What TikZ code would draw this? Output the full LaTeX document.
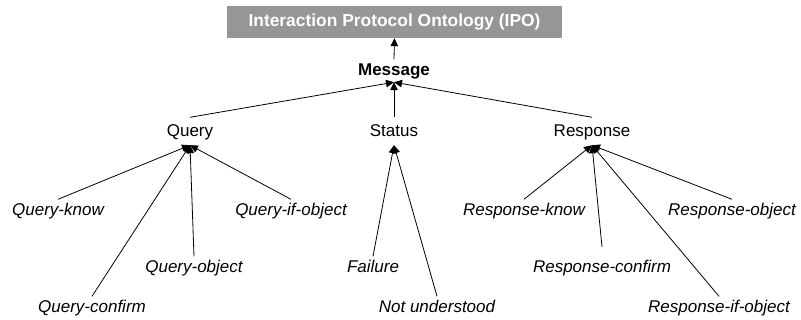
\documentclass[tikz,border=0pt]{standalone}
\usepackage{fontspec}
\setmainfont{Liberation Sans}
\usetikzlibrary{arrows.meta}
\definecolor{boxgray}{RGB}{150,150,150}
\tikzset{
  lbl/.style={anchor=base,inner xsep=0pt,inner ysep=4pt,text height=12.5pt,text depth=4pt,font=\fontsize{17}{20}\selectfont},
  leaf/.style={lbl,font=\fontsize{17}{20}\selectfont\itshape},
  conn/.style={line width=0.8pt,-{Triangle[length=8pt,width=7.5pt]}},
}
\begin{document}
\begin{tikzpicture}[x=1pt,y=-1pt]
\useasboundingbox (0,0) rectangle (801,320);
\node[fill=boxgray,text=white,minimum width=335pt,minimum height=32pt,inner sep=0pt,font=\fontsize{17.4}{20}\selectfont\bfseries] (ipo) at (394.5,22) {Interaction Protocol Ontology (IPO)};
\node[lbl,font=\fontsize{17}{20}\selectfont\bfseries] (msg) at (394,76) {Message};
\node[lbl] (q) at (190,137) {Query};
\node[lbl] (s) at (394,137) {Status};
\node[lbl] (r) at (592,137) {Response};
\node[leaf] (qk) at (58,216) {Query-know};
\node[leaf] (qi) at (291,216) {Query-if-object};
\node[leaf] (qo) at (194,273) {Query-object};
\node[leaf] (qc) at (92,313) {Query-confirm};
\node[leaf] (sf) at (373,273) {Failure};
\node[leaf] (sn) at (437,313) {Not understood};
\node[leaf] (rk) at (524,216) {Response-know};
\node[leaf] (ro) at (732,216) {Response-object};
\node[leaf] (rc) at (602,273) {Response-confirm};
\node[leaf] (ri) at (719,313) {Response-if-object};
\draw[conn] (msg.north) -- (ipo.south);
\draw[conn] ([yshift=3pt]q.north) -- ([yshift=2pt]msg.south);
\draw[conn] ([yshift=3pt]s.north) -- ([yshift=2pt]msg.south);
\draw[conn] ([yshift=3pt]r.north) -- ([yshift=2pt]msg.south);
\draw[conn] (qk.north) -- (q.south);
\draw[conn] (qi.north) -- (q.south);
\draw[conn] (qo.north) -- (q.south);
\draw[conn] (qc.north) -- (q.south);
\draw[conn] (sf.north) -- (s.south);
\draw[conn] (sn.north) -- (s.south);
\draw[conn] (rk.north) -- (r.south);
\draw[conn] (ro.north) -- (r.south);
\draw[conn] ([yshift=9.5pt]rc.north) -- (r.south);
\draw[conn] (ri.north) -- (r.south);
\end{tikzpicture}
\end{document}
